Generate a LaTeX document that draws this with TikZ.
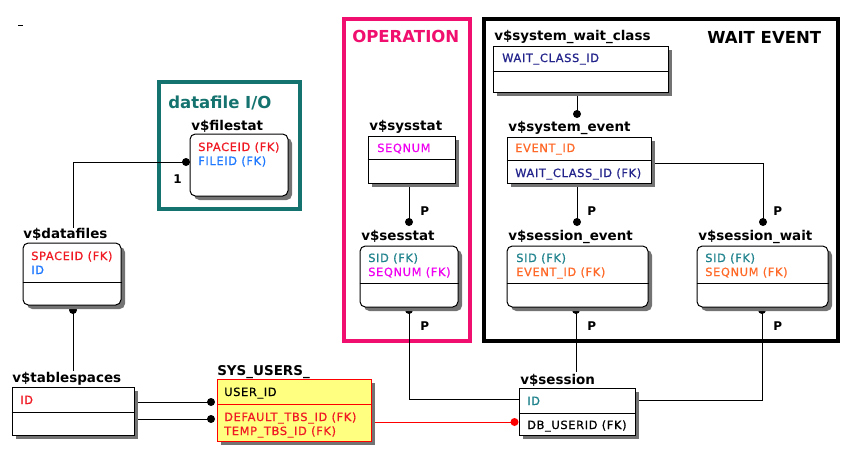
\documentclass[tikz,border=0pt]{standalone}
\usepackage{fontspec}
\setmainfont{DejaVu Sans}
\newfontfamily\fieldfont[LetterSpace=6,FakeBold=0.8]{DejaVu Sans}
\usetikzlibrary{fit,shadows}
\definecolor{fred}{RGB}{240,25,35}
\definecolor{fblue}{RGB}{30,120,255}
\definecolor{fteal}{RGB}{30,130,140}
\definecolor{fmag}{RGB}{240,0,240}
\definecolor{forange}{RGB}{255,105,40}
\definecolor{fnavy}{RGB}{35,35,140}
\definecolor{gteal}{RGB}{20,115,110}
\definecolor{gpink}{RGB}{240,15,110}
\definecolor{syell}{RGB}{255,255,128}
\definecolor{lred}{RGB}{255,0,0}
\begin{document}
\begin{tikzpicture}[x=0.75pt,y=-0.75pt,
  ent/.style={draw=black, line width=0.75pt, fill=white, inner sep=0pt,
    drop shadow={shadow xshift=3pt, shadow yshift=-3pt, opacity=1, fill=black!55}},
  rnd/.style={rounded corners=4pt},
  grpbox/.style={draw, line width=3pt, inner sep=0pt},
  ttl/.style={anchor=base west, inner sep=0pt, font=\bfseries\fontsize{10.1pt}{12pt}\selectfont},
  fld/.style={anchor=base west, inner sep=0pt, font=\fieldfont\fontsize{8.5pt}{10pt}\selectfont},
  gttl/.style={anchor=base west, inner sep=0pt, font=\bfseries\fontsize{12.4pt}{14pt}\selectfont},
  lbl/.style={anchor=base west, inner sep=0pt, font=\bfseries\fontsize{9pt}{11pt}\selectfont},
  conn/.style={line width=0.75pt},
  dot/.style={fill=black},
]
\useasboundingbox[fill=white] (0,0) rectangle (859,469);
\draw[line width=0.75pt] (18,25) -- (23,25);

% groups
\node[grpbox, draw=gteal, fit={(159,82) (300,209)}] (gio) {};
\node[grpbox, draw=gpink, fit={(344,19) (470,341)}] (gop) {};
\node[grpbox, draw=black, fit={(484,19) (838,341)}] (gwe) {};
\node[gttl, text=gteal] (gioT) at (168,108) {datafile I/O};
\node[gttl, text=gpink] (gopT) at (352,42) {OPERATION};
\node[gttl, text=black] (gweT) at (707,43) {WAIT EVENT};

% coordinates for free connector ends
\coordinate (dfIn) at (73,228);
\coordinate (tsIn) at (73,371);
\coordinate (snIn) at (576,372);

% connectors (drawn before boxes so shadows lie over them)
\draw[conn] (190,162) -| (dfIn);
\fill[dot] (186,162) circle[radius=4];
\node[lbl] (one) at (173,183) {1};

\draw[conn] (73,305) -- (tsIn);
\fill[dot] (73,310) circle[radius=4];

\draw[conn] (138,402) -- (211,402);
\fill[dot] (211,402) circle[radius=4];
\draw[conn] (138,419) -- (211,419);
\fill[dot] (211,419) circle[radius=4];

\draw[conn, draw=lred] (371,422) -- (514,422);
\fill[lred] (514.5,422) circle[radius=4];

\draw[conn] (409,183) -- (409,222);
\fill[dot] (409,222) circle[radius=4];
\node[lbl] (p1) at (420,215.5) {P};

\draw[conn] (577,92) -- (577,114);
\fill[dot] (577,114) circle[radius=4];

\draw[conn] (577,183) -- (577,222);
\fill[dot] (577,222) circle[radius=4];
\node[lbl] (p2) at (587,215.5) {P};

\draw[conn] (651,163) -| (763,222);
\fill[dot] (763,222) circle[radius=4];
\node[lbl] (p3) at (773,215.5) {P};

\draw[conn] (409,307) |- (519,399);
\fill[dot] (409,310) circle[radius=4];
\node[lbl] (p4) at (420,330) {P};

\draw[conn] (576,307) -- (snIn);
\fill[dot] (576,310) circle[radius=4];
\node[lbl] (p5) at (587,330) {P};

\draw[conn] (762,307) |- (635,400);
\fill[dot] (762,310) circle[radius=4];
\node[lbl] (p6) at (773,330) {P};

% entities
% v$filestat
\node[ent, rnd, fit={(190,134) (288,196)}] (fs) {};
\node[ttl] (fsT) at (191,130) {v\$filestat};
\node[fld, text=fred] (fs1) at (198,151) {SPACEID (FK)};
\node[fld, text=fblue] (fs2) at (198,165) {FILEID (FK)};

% v$datafiles
\node[ent, rnd, fit={(23,243) (121,305)}] (df) {};
\draw[conn] (df.west |- 0,282) -- (df.east |- 0,282);
\node[ttl] (dfT) at (23,238.5) {v\$datafiles};
\node[fld, text=fred] (df1) at (31,260) {SPACEID (FK)};
\node[fld, text=fblue] (df2) at (31,274) {ID};

% v$tablespaces
\node[ent, fit={(12,387) (134,435)}] (ts) {};
\draw[conn] (ts.west |- 0,412) -- (ts.east |- 0,412);
\node[ttl] (tsT) at (12,382.5) {v\$tablespaces};
\node[fld, text=fred] (ts1) at (20,404) {ID};

% SYS_USERS_
\node[ent, draw=lred, fill=syell, fit={(217,379) (371,441)}] (su) {};
\draw[conn, draw=lred] (su.west |- 0,404) -- (su.east |- 0,404);
\node[ttl] (suT) at (217,375) {SYS\_USERS\_};
\node[fld, text=black] (su1) at (224,396) {USER\_ID};
\node[fld, text=fred] (su2) at (224,421) {DEFAULT\_TBS\_ID (FK)};
\node[fld, text=fred] (su3) at (224,435) {TEMP\_TBS\_ID (FK)};

% v$sysstat
\node[ent, fit={(368,136) (455,183)}] (sys) {};
\draw[conn] (sys.west |- 0,159) -- (sys.east |- 0,159);
\node[ttl] (sysT) at (369,130.5) {v\$sysstat};
\node[fld, text=fmag] (sys1) at (377,152) {SEQNUM};

% v$sesstat
\node[ent, rnd, fit={(360,246) (458,307)}] (ses) {};
\draw[conn] (ses.west |- 0,283) -- (ses.east |- 0,283);
\node[ttl] (sesT) at (361,240.5) {v\$sesstat};
\node[fld, text=fteal] (ses1) at (368,262) {SID (FK)};
\node[fld, text=fmag] (ses2) at (368,276) {SEQNUM (FK)};

% v$system_wait_class
\node[ent, fit={(493,46) (668,92)}] (swc) {};
\draw[conn] (swc.west |- 0,71) -- (swc.east |- 0,71);
\node[ttl] (swcT) at (494,40.5) {v\$system\_wait\_class};
\node[fld, text=fnavy] (swc1) at (502,62) {WAIT\_CLASS\_ID};

% v$system_event
\node[ent, fit={(507,137) (651,183)}] (se) {};
\draw[conn] (se.west |- 0,160) -- (se.east |- 0,160);
\node[ttl] (seT) at (508,131) {v\$system\_event};
\node[fld, text=forange] (se1) at (515,152) {EVENT\_ID};
\node[fld, text=fnavy] (se2) at (515,177) {WAIT\_CLASS\_ID (FK)};

% v$session_event
\node[ent, rnd, fit={(507,246) (648,307)}] (sev) {};
\draw[conn] (sev.west |- 0,283) -- (sev.east |- 0,283);
\node[ttl] (sevT) at (508,240.5) {v\$session\_event};
\node[fld, text=fteal] (sev1) at (516,262) {SID (FK)};
\node[fld, text=forange] (sev2) at (516,276) {EVENT\_ID (FK)};

% v$session_wait
\node[ent, rnd, fit={(697,246) (828,307)}] (sw) {};
\draw[conn] (sw.west |- 0,283) -- (sw.east |- 0,283);
\node[ttl] (swT) at (698,240.5) {v\$session\_wait};
\node[fld, text=fteal] (sw1) at (705,262) {SID (FK)};
\node[fld, text=forange] (sw2) at (705,276) {SEQNUM (FK)};

% v$session
\node[ent, fit={(519,388) (635,435)}] (sn) {};
\draw[conn] (sn.west |- 0,413) -- (sn.east |- 0,413);
\node[ttl] (snT) at (520,384.5) {v\$session};
\node[fld, text=fteal] (sn1) at (527,405) {ID};
\node[fld, text=black] (sn2) at (527,429) {DB\_USERID (FK)};
\end{tikzpicture}
\end{document}
